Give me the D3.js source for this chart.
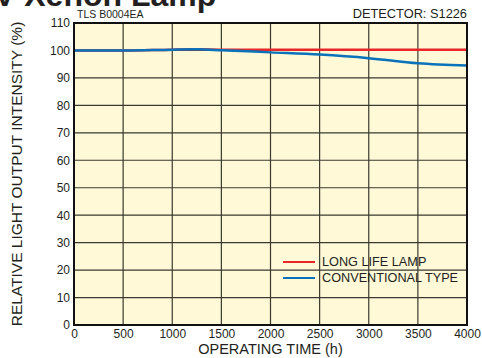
<!DOCTYPE html>
<html>
<head>
<meta charset="utf-8">
<script src="https://cdn.jsdelivr.net/npm/d3@7"></script>
<style>
  body { margin: 0; background: #fff; }
  text { font-family: "Liberation Sans", Arial, sans-serif; fill: #231f20; }
</style>
</head>
<body>
<div id="plt"></div>
<script>
// operating time (h) and relative output (%)
const hours = [0, 500, 1000, 1250, 1500, 2000, 2500, 3000, 3500, 4000];
const longLife = [100, 100, 100.3, 100.4, 100.3, 100.3, 100.3, 100.3, 100.3, 100.3];
const conventional = [100, 100, 100.3, 100.4, 100.1, 99.3, 98.5, 97.2, 95.3, 94.5];
const xTicks = [0, 500, 1000, 1500, 2000, 2500, 3000, 3500, 4000];
const yTicks = [0, 10, 20, 30, 40, 50, 60, 70, 80, 90, 100, 110];
const seriesNames = ["LONG LIFE LAMP", "CONVENTIONAL TYPE"];
const seriesColors = ["#e8262a", "#0a72ba"];

const W = 482, H = 358;
const margin = { top: 23, right: 15, bottom: 33, left: 74 };
const width = W - margin.left - margin.right;
const height = H - margin.top - margin.bottom;

const svg = d3.select("#plt").append("svg")
    .attr("width", W)
    .attr("height", H);

// title, cut off at the top like the original
svg.append("text")
    .attr("x", -6)
    .attr("y", 6)
    .style("font-size", "32px")
    .style("font-weight", "bold")
    .text("V Xenon Lamp");

const g = svg.append("g")
    .attr("transform", "translate(" + margin.left + "," + margin.top + ")");

const x = d3.scaleLinear().domain([0, 4000]).range([0, width]);
const y = d3.scaleLinear().domain([0, 110]).range([height, 0]);

g.append("rect")
    .attr("width", width)
    .attr("height", height)
    .attr("fill", "#fff9d8");

// grid
g.append("g")
    .selectAll("line")
    .data(xTicks.slice(1, -1))
    .enter()
    .append("line")
    .attr("x1", d => x(d)).attr("x2", d => x(d))
    .attr("y1", 0).attr("y2", height)
    .attr("stroke", "#3a3a30")
    .attr("stroke-width", 1.2);

g.append("g")
    .selectAll("line")
    .data(yTicks.slice(1, -1))
    .enter()
    .append("line")
    .attr("x1", 0).attr("x2", width)
    .attr("y1", d => y(d)).attr("y2", d => y(d))
    .attr("stroke", "#3a3a30")
    .attr("stroke-width", 1.2);

// tick labels
const xAxis = g.append("g")
    .attr("transform", "translate(0," + height + ")")
    .call(d3.axisBottom(x).tickValues(xTicks).tickFormat(d3.format("d")).tickSize(0).tickPadding(4));
xAxis.select(".domain").remove();
xAxis.selectAll("text").style("font-size", "12px").style("font-family", "Liberation Sans, Arial, sans-serif").attr("fill", "#231f20");

const yAxis = g.append("g")
    .call(d3.axisLeft(y).tickValues(yTicks).tickSize(0).tickPadding(4));
yAxis.select(".domain").remove();
yAxis.selectAll("text").style("font-size", "12px").style("font-family", "Liberation Sans, Arial, sans-serif").attr("fill", "#231f20");

// lines
const line = d3.line()
    .x((d, i) => x(hours[i]))
    .y(d => y(d))
    .curve(d3.curveMonotoneX);

[longLife, conventional].forEach((s, k) => {
  g.append("path")
      .datum(s)
      .attr("d", line)
      .attr("fill", "none")
      .attr("stroke", seriesColors[k])
      .attr("stroke-width", 2.5);
});

// frame
g.append("rect")
    .attr("width", width)
    .attr("height", height)
    .attr("fill", "none")
    .attr("stroke", "#111")
    .attr("stroke-width", 2);

// legend
const legend = svg.append("g")
    .attr("transform", "translate(283,262)");
seriesNames.forEach((name, k) => {
  legend.append("line")
      .attr("x1", 0).attr("x2", 32)
      .attr("y1", k * 16).attr("y2", k * 16)
      .attr("stroke", seriesColors[k])
      .attr("stroke-width", 2);
  legend.append("text")
      .attr("x", 39)
      .attr("y", k * 16)
      .attr("dy", "0.35em")
      .style("font-size", "12.7px")
      .text(name);
});

// small header texts
svg.append("text")
    .attr("x", 77)
    .attr("y", 18)
    .style("font-size", "10.5px")
    .text("TLS B0004EA");
svg.append("text")
    .attr("x", margin.left + width)
    .attr("y", 18)
    .attr("text-anchor", "end")
    .style("font-size", "12.8px")
    .text("DETECTOR: S1226");

// axis titles
svg.append("text")
    .attr("x", margin.left + width / 2)
    .attr("y", H - 4)
    .attr("text-anchor", "middle")
    .style("font-size", "14.5px")
    .text("OPERATING TIME (h)");
svg.append("text")
    .attr("transform", "translate(22," + (margin.top + height / 2) + ") rotate(-90)")
    .attr("text-anchor", "middle")
    .style("font-size", "15.5px")
    .text("RELATIVE LIGHT OUTPUT INTENSITY (%)");
</script>
</body>
</html>
